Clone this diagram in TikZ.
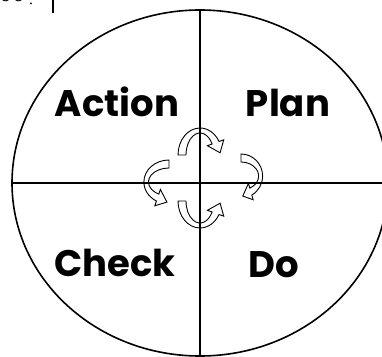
\documentclass[tikz,border=0pt]{standalone}
\usepackage{fontspec}
\setmainfont{Poppins}
\newfontfamily\fragfont{Liberation Serif}
\begin{document}
\begin{tikzpicture}[x=1pt,y=1pt,
  frame/.style={line width=1.6pt, black},
  cyclearrow/.style={line width=0.9pt, black, line join=miter},
  label/.style={font=\fontsize{37}{40}\selectfont\bfseries, anchor=base, inner sep=0pt}]
\useasboundingbox (0,0) rectangle (382,356);
% cropped fragment at top-left
\node[font=\fragfont\fontsize{26}{28}\selectfont, anchor=base west, inner sep=0pt] (frag) at (-1,354) {00};
\fill (31,352.5) circle (1);
\coordinate (bartop) at (53,357);
\coordinate (barbot) at (53,343);
\draw[line width=1.4pt] (bartop) -- (barbot);
% circle and axes
\coordinate (c) at (200,173);
\draw[frame] (c) ellipse [x radius=188, y radius=173];
\coordinate (vt) at (200,346);
\coordinate (vb) at (200,-2);
\coordinate (hl) at (12,173);
\coordinate (hr) at (384,173);
\draw[frame] (vt) -- (vb);
\draw[frame] (hl) -- (hr);
% labels
\node[label] (action) at (117,239) {Action};
\node[label] (plan) at (288,239) {Plan};
\node[label] (check) at (115,80) {Check};
\node[label] (do) at (274,79) {Do};
% curved arrows
\tikzset{pdcaarrow/.pic={
  \draw[cyclearrow] (-22,0) arc[start angle=180,end angle=30,x radius=22,y radius=27]
    -- (23.75,15.2) -- (20.1,2.2) -- (7.4,9.3) -- (12.12,11)
    arc[start angle=30,end angle=180,x radius=14,y radius=22] -- cycle;
}}
\pic[shift={(200,201)}] {pdcaarrow};
\pic[shift={(200,155)}, yscale=-1] {pdcaarrow};
\pic[shift={(241,180)}, rotate=-90, yscale=0.8] {pdcaarrow};
\pic[shift={(169,174)}, xscale=-1, rotate=-90, yscale=0.93] {pdcaarrow};
\end{tikzpicture}
\end{document}
